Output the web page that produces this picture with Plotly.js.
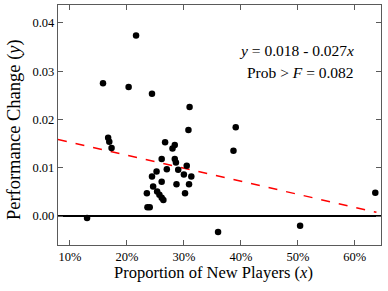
<!DOCTYPE html>
<html><head><meta charset="utf-8">
<script src="https://cdn.plot.ly/plotly-3.0.1.min.js"></script>
<style>body{margin:0;padding:0;background:#fff}#c{width:388px;height:291px}</style>
</head><body><div id="c"></div>
<script>
// Proportion of new players (%) and performance change
const newPlayersPct = [21.6, 15.8, 20.3, 24.4, 31.0, 30.8, 39.1, 16.7, 16.9, 17.3,
  26.7, 28.4, 28.0, 26.1, 28.4, 28.6, 30.5, 27.0, 29.0, 25.2,
  30.0, 31.3, 24.4, 26.1, 28.7, 30.9, 24.6, 25.3, 25.7, 26.1,
  26.4, 23.5, 30.2, 23.6, 24.0, 13.0, 36.0, 38.7, 63.6, 50.4];
const perfChange = [0.0374, 0.0275, 0.0267, 0.0253, 0.0226, 0.0178, 0.0184, 0.0162, 0.0154, 0.0141,
  0.0153, 0.0147, 0.0140, 0.0118, 0.0118, 0.0111, 0.0104, 0.0097, 0.0096, 0.0092,
  0.0086, 0.0082, 0.0082, 0.0071, 0.0066, 0.0066, 0.0061, 0.0051, 0.0044, 0.0038,
  0.0033, 0.0047, 0.0047, 0.0018, 0.0018, -0.0004, -0.0033, 0.0135, 0.0048, -0.0020];
const fitIntercept = 0.018, fitSlope = -0.027;
const fitX = [7.9, 63.8];
const xTicks = [10, 20, 30, 40, 50, 60];
const xTickText = ["10%", "20%", "30%", "40%", "50%", "60%"];
const yTicks = [0.00, 0.01, 0.02, 0.03, 0.04];
const xTitle = "Proportion of New Players (<i>x</i>)";
const yTitle = "Performance Change (<i>y</i>)";
const eqText = "<i>y</i> = 0.018 - 0.027<i>x</i>";
const probText = "Prob &gt; <i>F</i> = 0.082";

const fitY = fitX.map(v => fitIntercept + fitSlope * v / 100);
const font = {family: "Liberation Serif, Times New Roman, serif", color: "#000"};
const f = s => Object.assign({size: s}, font);
const traces = [
  {x: fitX, y: fitY, mode: "lines", line: {color: "#ff0000", width: 1.5, dash: "dash"}, hoverinfo: "skip"},
  {x: newPlayersPct, y: perfChange, mode: "markers", marker: {color: "#000", size: 6.5}}
];
const axBase = {showgrid: false, zeroline: false, showline: true, mirror: "ticks", linecolor: "#5a5a5a", linewidth: 1.2,
  ticks: "inside", ticklen: 5, tickcolor: "#5a5a5a", tickwidth: 1, tickfont: f(12.5)};
const layout = {
  width: 388, height: 291, margin: {l: 58, r: 7, t: 5, b: 46},
  paper_bgcolor: "#fff", plot_bgcolor: "#fff", showlegend: false, font: font,
  xaxis: Object.assign({}, axBase, {range: [7.9, 64.6], tickvals: xTicks, ticktext: xTickText}),
  yaxis: Object.assign({}, axBase, {range: [-0.006, 0.0437], tickvals: yTicks, tickformat: ".2f",
    zeroline: true, zerolinecolor: "#000", zerolinewidth: 1.6}),
  annotations: [
    {xref: "paper", yref: "paper", x: 0.48, y: -0.1125, xanchor: "center", yanchor: "middle", showarrow: false,
     text: xTitle, font: f(16.5)},
    {xref: "paper", yref: "paper", x: -0.136, y: 0.479, xanchor: "center", yanchor: "middle", showarrow: false,
     textangle: -90, text: yTitle, font: f(18.5)},
    {xref: "paper", yref: "paper", x: 0.924, y: 0.8125, xanchor: "right", yanchor: "middle", showarrow: false,
     text: eqText, font: f(15.5)},
    {xref: "paper", yref: "paper", x: 0.924, y: 0.717, xanchor: "right", yanchor: "middle", showarrow: false,
     text: probText, font: f(15.5)}
  ]
};
Plotly.newPlot("c", traces, layout, {staticPlot: true, displayModeBar: false});
</script></body></html>
